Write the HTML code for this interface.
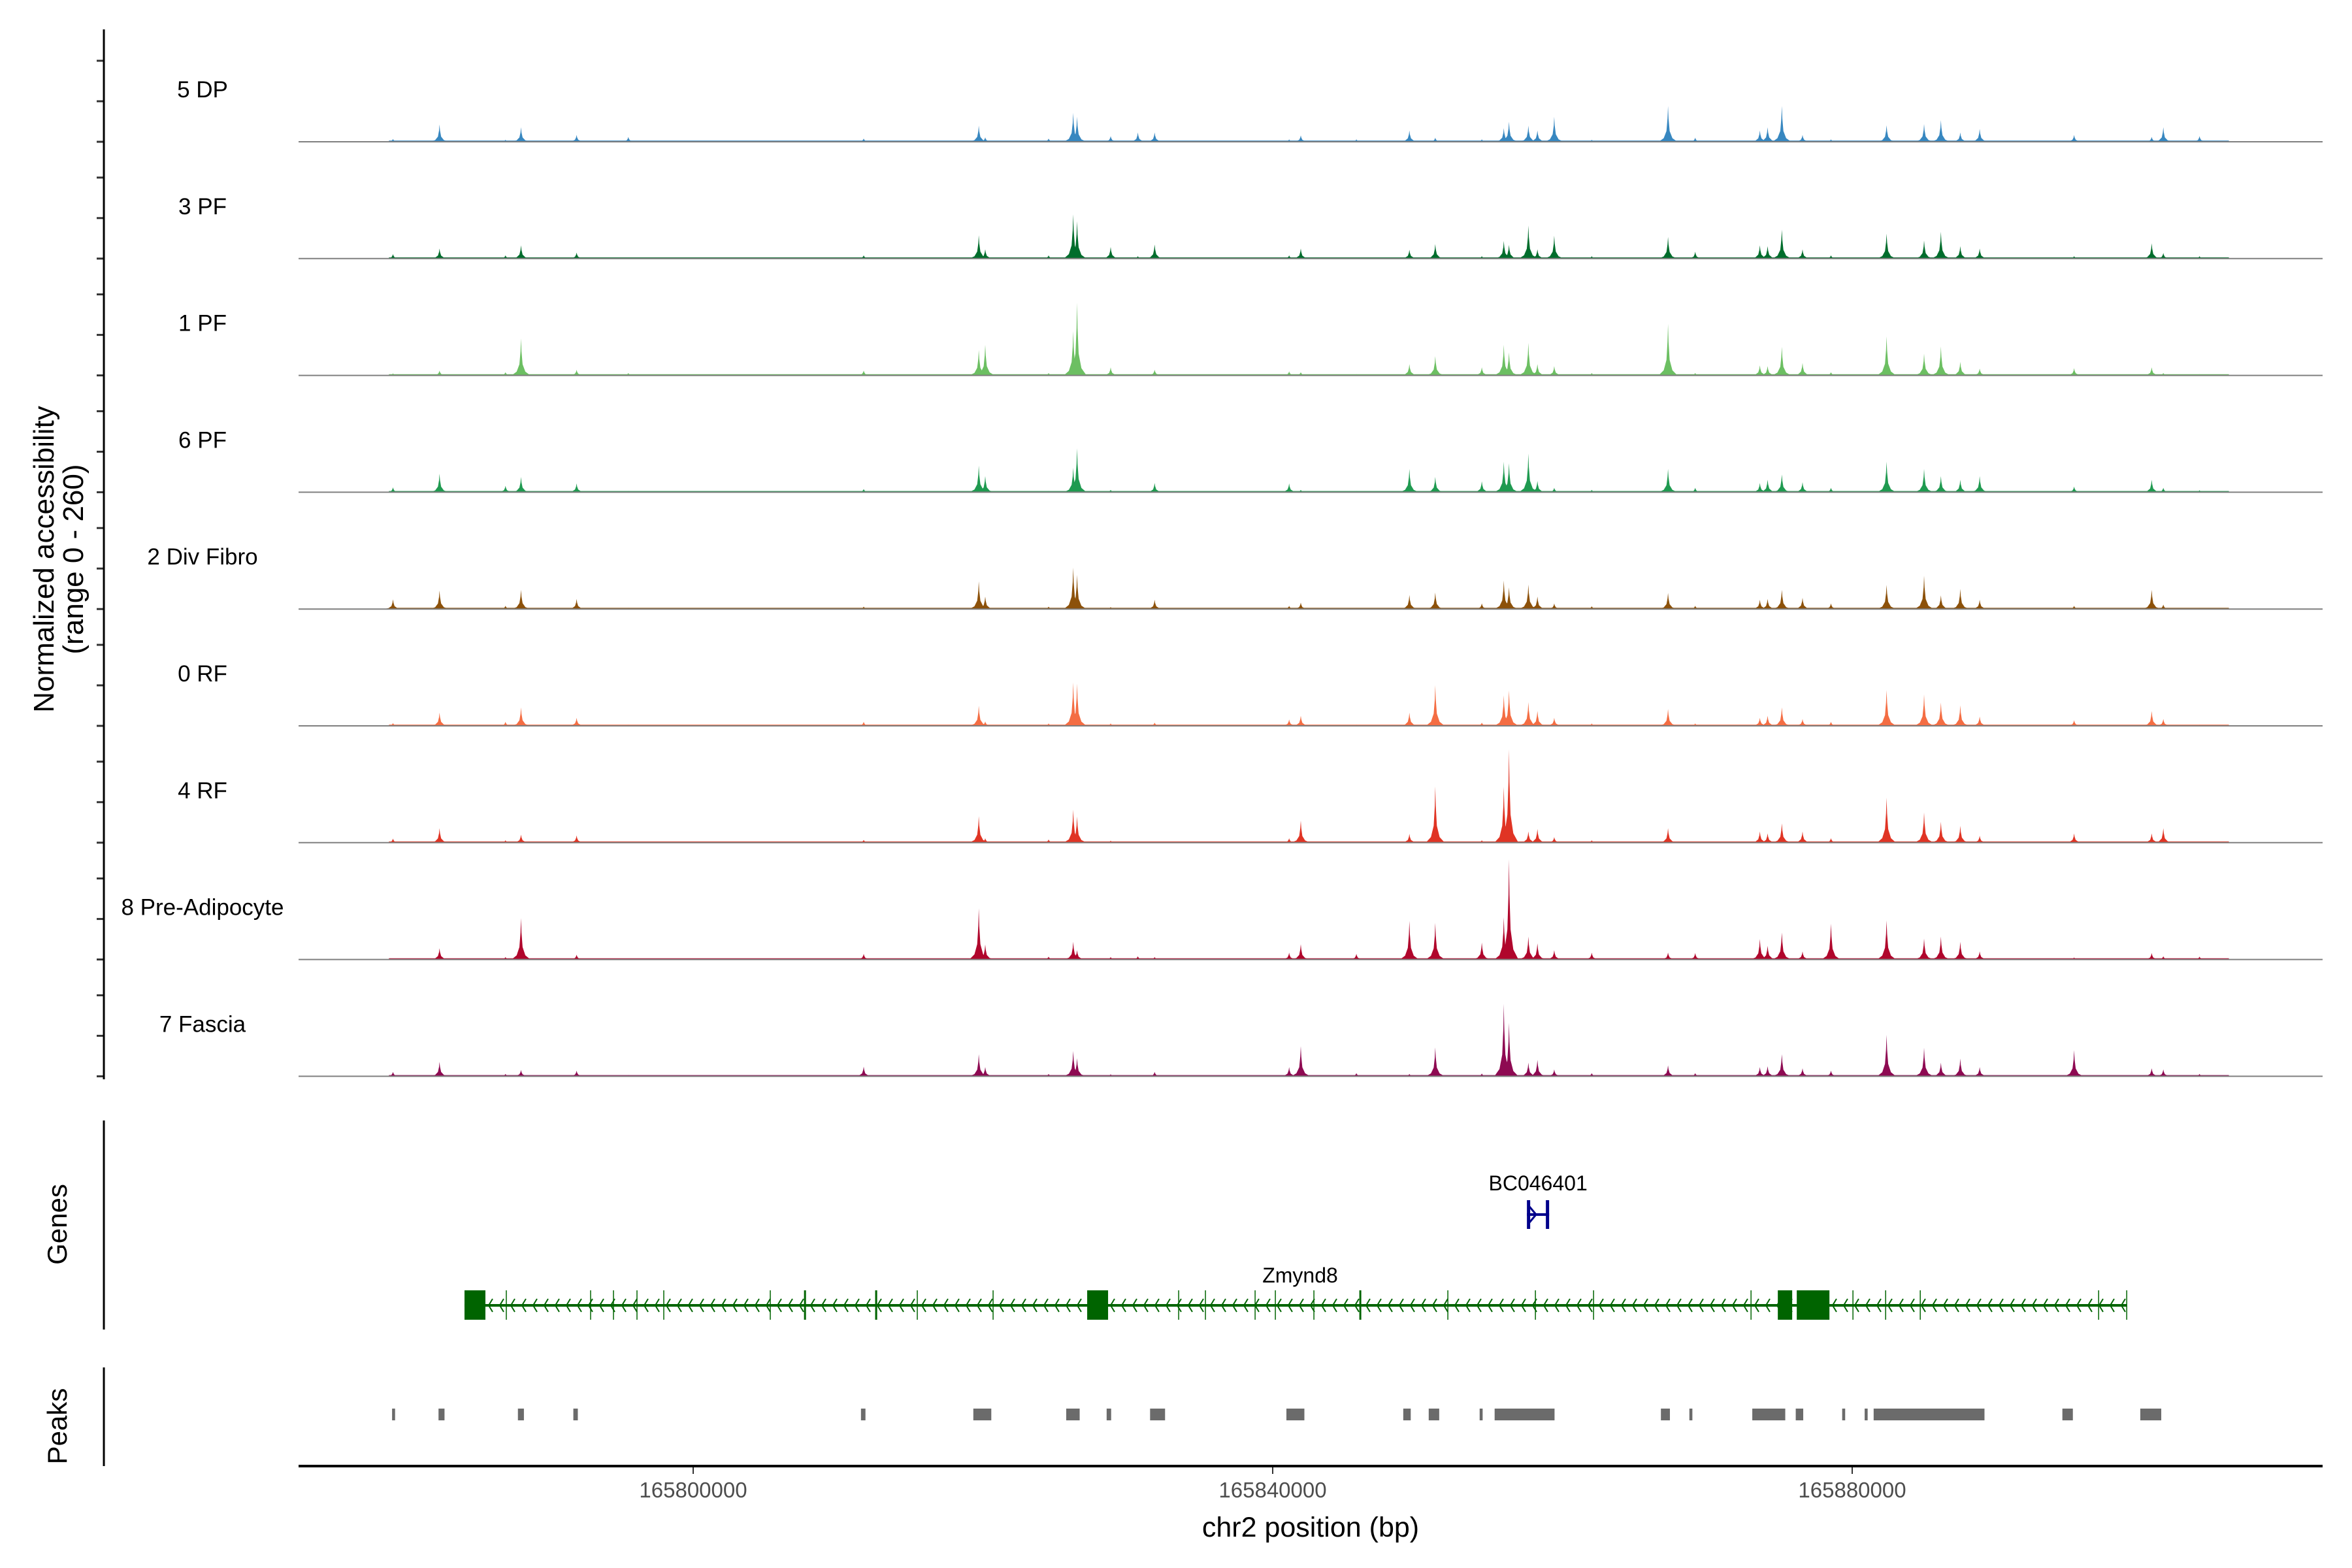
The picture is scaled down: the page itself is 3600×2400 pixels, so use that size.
<!DOCTYPE html>
<html><head><meta charset="utf-8">
<style>
html,body{margin:0;padding:0;background:#fff;}
svg{display:block;font-family:"Liberation Sans",Arial,sans-serif;}
</style></head>
<body>
<svg id="chart" width="3600" height="2400" viewBox="0 0 3600 2400" xmlns="http://www.w3.org/2000/svg">
  <rect x="0" y="0" width="3600" height="2400" fill="#fff"/>
  <g id="tracks"></g>
  <g id="leftaxis"></g>
  <text transform="translate(82,856) rotate(-90)" text-anchor="middle" font-size="44" fill="#000">Normalized accessibility</text>
  <text transform="translate(127,856) rotate(-90)" text-anchor="middle" font-size="44" fill="#000">(range 0 - 260)</text>
  <g id="genes"></g>
  <line x1="159" y1="1715" x2="159" y2="2035" stroke="#000" stroke-width="3"/>
  <text transform="translate(102,1874) rotate(-90)" text-anchor="middle" font-size="42" fill="#000">Genes</text>
  <g id="peaks"></g>
  <line x1="159" y1="2093" x2="159" y2="2244" stroke="#000" stroke-width="3"/>
  <text transform="translate(102,2183) rotate(-90)" text-anchor="middle" font-size="42" fill="#000">Peaks</text>
  <g id="xaxis"></g>
  <text x="2006" y="2352" text-anchor="middle" font-size="43" fill="#000">chr2 position (bp)</text>
</svg>
<script>
// ---- data ----
const trackNames = ["5 DP","3 PF","1 PF","6 PF","2 Div Fibro","0 RF","4 RF","8 Pre-Adipocyte","7 Fascia"];
const trackColors = ["#3787c0","#006d2c","#6cbf62","#1f9a50","#8c510a","#f46d43","#e03424","#b0062c","#8e0a52"];
const peakPositions = [165779278,165782491,165787044,165788115,165791953,165795523,165811769,165819713,165820159,165824533,165826229,165826497,165828817,165830692,165831852,165841135,165841939,165845777,165849436,165851222,165854435,165855952,165856309,165857648,165858273,165859433,165862022,165867288,165869163,165873626,165874161,165875143,165876571,165878535,165882373,165884962,165886122,165887461,165888800,165895316,165900672,165901475,165903974];
const valsDP   = [7,43,5,36,17,12,8,40,11,8,72,62,14,23,23,6,16,6,28,10,6,34,50,40,28,62,5,89,10,28,36,89,17,6,41,44,54,23,32,17,12,36,14];
const vals3PF  = [11,25,8,33,15,3,8,58,23,8,110,93,29,6,35,8,25,3,22,36,6,44,34,82,23,57,6,54,17,33,31,72,23,8,62,45,67,31,25,6,38,14,6];
const vals1PF  = [5,12,8,92,14,6,12,63,76,6,110,181,20,3,14,10,8,3,28,48,20,76,57,81,28,23,6,128,6,25,23,71,31,8,97,54,72,34,17,18,20,6,3];
const vals6PF  = [12,46,16,38,22,3,8,66,40,3,61,109,6,3,23,22,6,3,58,38,27,76,72,96,28,11,6,58,11,23,31,44,25,11,76,58,40,31,40,14,31,11,5];
const valsDiv  = [24,46,8,48,25,3,6,69,31,6,103,85,5,3,23,8,16,3,35,41,14,71,54,61,31,14,7,40,8,23,25,48,28,14,60,83,34,50,23,8,48,11,3];
const vals0RF  = [7,33,10,46,20,3,10,50,11,6,108,105,6,3,8,16,25,3,33,101,8,76,88,59,37,20,6,42,6,20,25,46,17,10,89,78,58,51,23,14,37,17,3];
const vals4RF  = [10,36,6,20,18,3,7,66,11,8,82,65,5,3,3,11,55,3,22,140,6,139,232,28,34,14,6,36,3,28,23,48,28,11,112,75,52,42,17,23,23,36,3];
const valsPre  = [0,28,6,103,12,0,14,127,37,7,44,23,6,8,6,17,38,14,96,91,42,105,249,57,40,23,17,17,16,51,34,67,20,89,97,52,57,44,20,5,16,8,7];
const valsFas  = [11,36,6,16,14,3,24,55,23,6,63,45,5,3,11,23,75,8,6,72,7,180,133,34,41,17,8,27,8,23,25,55,20,14,103,71,34,44,23,65,20,17,6];
const trackValues = [valsDP,vals3PF,vals1PF,vals6PF,valsDiv,vals0RF,vals4RF,valsPre,valsFas];
const bgStart = 165779000, bgEnd = 165906000, bgLevel = 3;
const xTicks = [165800000,165840000,165880000];
const xTickLabels = ["165800000","165840000","165880000"];
const peakStarts = [165779217,165782422,165787902,165791728,165811581,165819336,165825747,165828538,165831537,165840946,165849012,165850769,165854285,165855319,165866796,165868761,165873104,165876103,165879308,165880860,165881480,165894507,165899884];
const peakEnds   = [165779423,165782836,165788316,165792038,165811891,165820577,165826677,165828849,165832571,165842187,165849529,165851493,165854492,165859455,165867417,165868968,165875379,165876620,165879515,165881066,165889131,165895231,165901332];
const geneStart = 165784215, geneEnd = 165898949;
const exonStarts = [165784215,165807650,165812560,165827195,165845980,165874866,165876174];
const exonEnds   = [165785658,165807780,165812700,165828638,165846110,165875858,165878429];
const thinExons = [165787101,165792919,165794498,165796121,165797970,165805322,165815469,165820701,165833509,165835358,165838786,165840184,165842845,165852090,165858134,165862148,165873017,165880052,165882308,165884698,165897010,165898949];
const gene2Start = 165857548, gene2End = 165859081;

// ---- scales ----
const NS="http://www.w3.org/2000/svg";
const X0=1061, BP0=165800000, PXPERBP=0.022175;
function xs(bp){return X0+(bp-BP0)*PXPERBP;}
const BASE0=217, TSTEP=178.8, VMAX=260, VPX=160;
function ys(i,v){return BASE0+i*TSTEP - v/VMAX*VPX;}
function mk(tag,attrs,parent){const e=document.createElementNS(NS,tag);for(const k in attrs)e.setAttribute(k,attrs[k]);parent.appendChild(e);return e;}

const tracks=document.getElementById('tracks');
const left=document.getElementById('leftaxis');
trackNames.forEach((name,i)=>{
  const g=mk('g',{},tracks);
  
  
  const base=ys(i,0);
  const bg=mk('rect',{x:xs(bgStart),y:ys(i,bgLevel),width:xs(bgEnd)-xs(bgStart),height:base-ys(i,bgLevel),fill:trackColors[i]},g);
  
  
  const vals=trackValues[i];
  peakPositions.forEach((p,j)=>{
    const v=vals[j]; if(!v) return;
    const pts=[[p-650,0],[p-300,v*0.1],[p-110,v*0.3],[p-35,v*0.65],[p,v],[p+35,v*0.65],[p+110,v*0.3],[p+300,v*0.1],[p+650,0]]
      .map(a=>xs(a[0]).toFixed(1)+','+ys(i,a[1]).toFixed(1)).join(' ');
    const pg=mk('polygon',{points:pts,fill:trackColors[i]},g);
    
    
  });
  const bl=mk('line',{x1:457,x2:3555,y1:base,y2:base,stroke:'#7f7f7f','stroke-width':2},g);
  
  
  const lb=mk('text',{x:310,y:base-68,'text-anchor':'middle','font-size':35,fill:'#000'},g);
  lb.textContent=name;
  
  
  [0,62,124].forEach(d=>{
    const t=mk('line',{x1:148,x2:159,y1:base-d,y2:base-d,stroke:'#333','stroke-width':3},left);
    
    
  });
});
const la=mk('line',{x1:159,x2:159,y1:45,y2:1652,stroke:'#000','stroke-width':3},left);



// genes
const genes=document.getElementById('genes');
const GY=1998, DG='#006400';
const gl=mk('line',{x1:xs(geneStart),x2:xs(geneEnd),y1:GY,y2:GY,stroke:DG,'stroke-width':4},genes);


for(let x=xs(geneStart)+20;x<xs(geneEnd)-4;x+=17){
  const c=mk('polyline',{points:(x+6)+','+(GY-10)+' '+x+','+GY+' '+(x+6)+','+(GY+10),fill:'none',stroke:DG,'stroke-width':2},genes);
  
  
}
thinExons.forEach(p=>{
  const l=mk('line',{x1:xs(p),x2:xs(p),y1:1975,y2:2020,stroke:DG,'stroke-width':1.5},genes);
  
  
});
exonStarts.forEach((s,k)=>{
  const r=mk('rect',{x:xs(s),y:1975,width:Math.max(3,xs(exonEnds[k])-xs(s)),height:45,fill:DG},genes);
  
  
});
const zl=mk('text',{x:1990,y:1963,'text-anchor':'middle','font-size':32,fill:'#000'},genes);
zl.textContent='Zmynd8';


const b1=xs(gene2Start), b2=xs(gene2End), BY=1859;
[b1,b2-5].forEach(x=>{
  const r=mk('rect',{x:x,y:1837,width:5,height:44,fill:'#00008b'},genes);
  
  
});
const bl2=mk('line',{x1:b1,x2:b2,y1:BY,y2:BY,stroke:'#00008b','stroke-width':4},genes);


const ba=mk('polyline',{points:(b1+4)+','+(BY-12)+' '+(b1+14)+','+BY+' '+(b1+4)+','+(BY+12),fill:'none',stroke:'#00008b','stroke-width':3},genes);


const bt=mk('text',{x:(b1+b2)/2,y:1822,'text-anchor':'middle','font-size':32,fill:'#000'},genes);
bt.textContent='BC046401';



// peaks
const pk=document.getElementById('peaks');
peakStarts.forEach((s,k)=>{
  const r=mk('rect',{x:xs(s),y:2156,width:Math.max(4,xs(peakEnds[k])-xs(s)),height:18,fill:'#6b6b6b'},pk);
  
  
});

// x axis
const xa=document.getElementById('xaxis');
const axl=mk('line',{x1:457,x2:3555,y1:2244,y2:2244,stroke:'#000','stroke-width':4},xa);


xTicks.forEach((t,k)=>{
  const l=mk('line',{x1:xs(t),x2:xs(t),y1:2246,y2:2256,stroke:'#333','stroke-width':2},xa);
  
  
  const tx=mk('text',{x:xs(t),y:2292,'text-anchor':'middle','font-size':33,fill:'#4d4d4d'},xa);
  tx.textContent=xTickLabels[k];
  
  
});
</script>
</body></html>
